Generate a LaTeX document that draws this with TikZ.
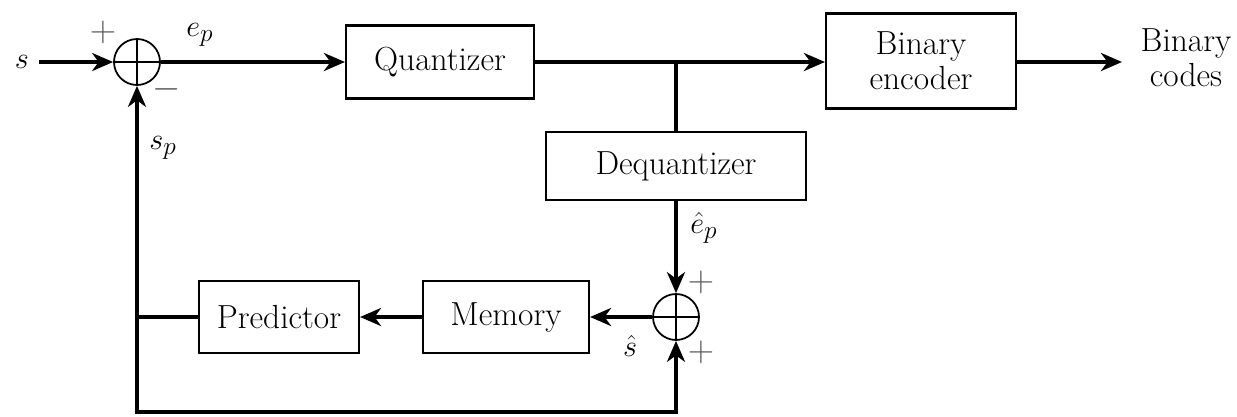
\documentclass[tikz,border=0pt]{standalone}
\usetikzlibrary{arrows.meta,positioning,calc}

\begin{document}
\begin{tikzpicture}[
    x=0.02cm, y=-0.02cm,
    font=\fontsize{19}{22}\selectfont,
    every node/.style={inner sep=0pt},
    block/.style={draw, line width=1.2pt, align=center},
    summer/.style={draw, circle, line width=1pt, minimum size=0.92cm,
        path picture={\draw[line width=1pt] (path picture bounding box.north) -- (path picture bounding box.south)
                                             (path picture bounding box.west) -- (path picture bounding box.east);}},
    sig/.style={line width=2.8pt},
    arr/.style={sig, -{Stealth[length=4.2mm, width=3.6mm, inset=1.3mm]}},
    sign/.style={text=black!65, font=\fontsize{20}{24}\selectfont}
]
    \useasboundingbox (0,0) rectangle (1237,416);

    % Forward path
    \node (in) at (22,62) {$s$};
    \node[summer] (sum1) at (137,62) {};
    \node[block, minimum width=3.76cm, minimum height=1.46cm] (quant) at (440,62) {Quantizer};
    \node[block, minimum width=3.8cm, minimum height=1.9cm] (enc) at (921,61) {Binary\\[-2pt]encoder};
    \node[align=center] (out) at (1186,58) {Binary\\[-2pt]codes};
    \coordinate (outend) at (1122,62);

    % Feedback path
    \node[block, minimum width=5.2cm, minimum height=1.36cm] (deq) at (676,166) {Dequantizer};
    \node[summer] (sum2) at (676,317) {};
    \node[block, minimum width=3.32cm, minimum height=1.44cm] (mem) at (506,317) {Memory};
    \node[block, minimum width=3.2cm, minimum height=1.44cm] (pred) at (279,317) {Predictor};
    \coordinate (branch) at (676,62);
    \coordinate (predleft) at (137,317);
    \coordinate (botleft) at (137,412);
    \coordinate (botright) at (676,412);

    % Connections
    \draw[arr] (in.east) ++(10,0) -- (sum1.west);
    \draw[arr] (sum1.east) -- (quant.west);
    \draw[arr] (quant.east) -- (quant.east -| enc.west);
    \draw[arr] (quant.east -| enc.east) -- (outend);
    \draw[sig] (branch) -- (deq.north);
    \draw[arr] (deq.south) -- (sum2.north);
    \draw[arr] (sum2.west) -- (mem.east);
    \draw[arr] (mem.west) -- (pred.east);
    \draw[arr] (pred.west) -- (predleft) -- (sum1.south);
    \draw[arr] (predleft) -- (botleft) -- (botright) -- (sum2.south);

    % Signal labels and signs
    \node at (200,35) {$e_p$};
    \node at (163,148) {$s_p$};
    \node at (704,228) {$\hat{e}_p$};
    \node at (630,346) {$\hat{s}$};
    \node[sign] at (103,32) {$+$};
    \node[sign] at (167,89) {$-$};
    \node[sign] at (701,282) {$+$};
    \node[sign] at (701,352) {$+$};
\end{tikzpicture}
\end{document}
